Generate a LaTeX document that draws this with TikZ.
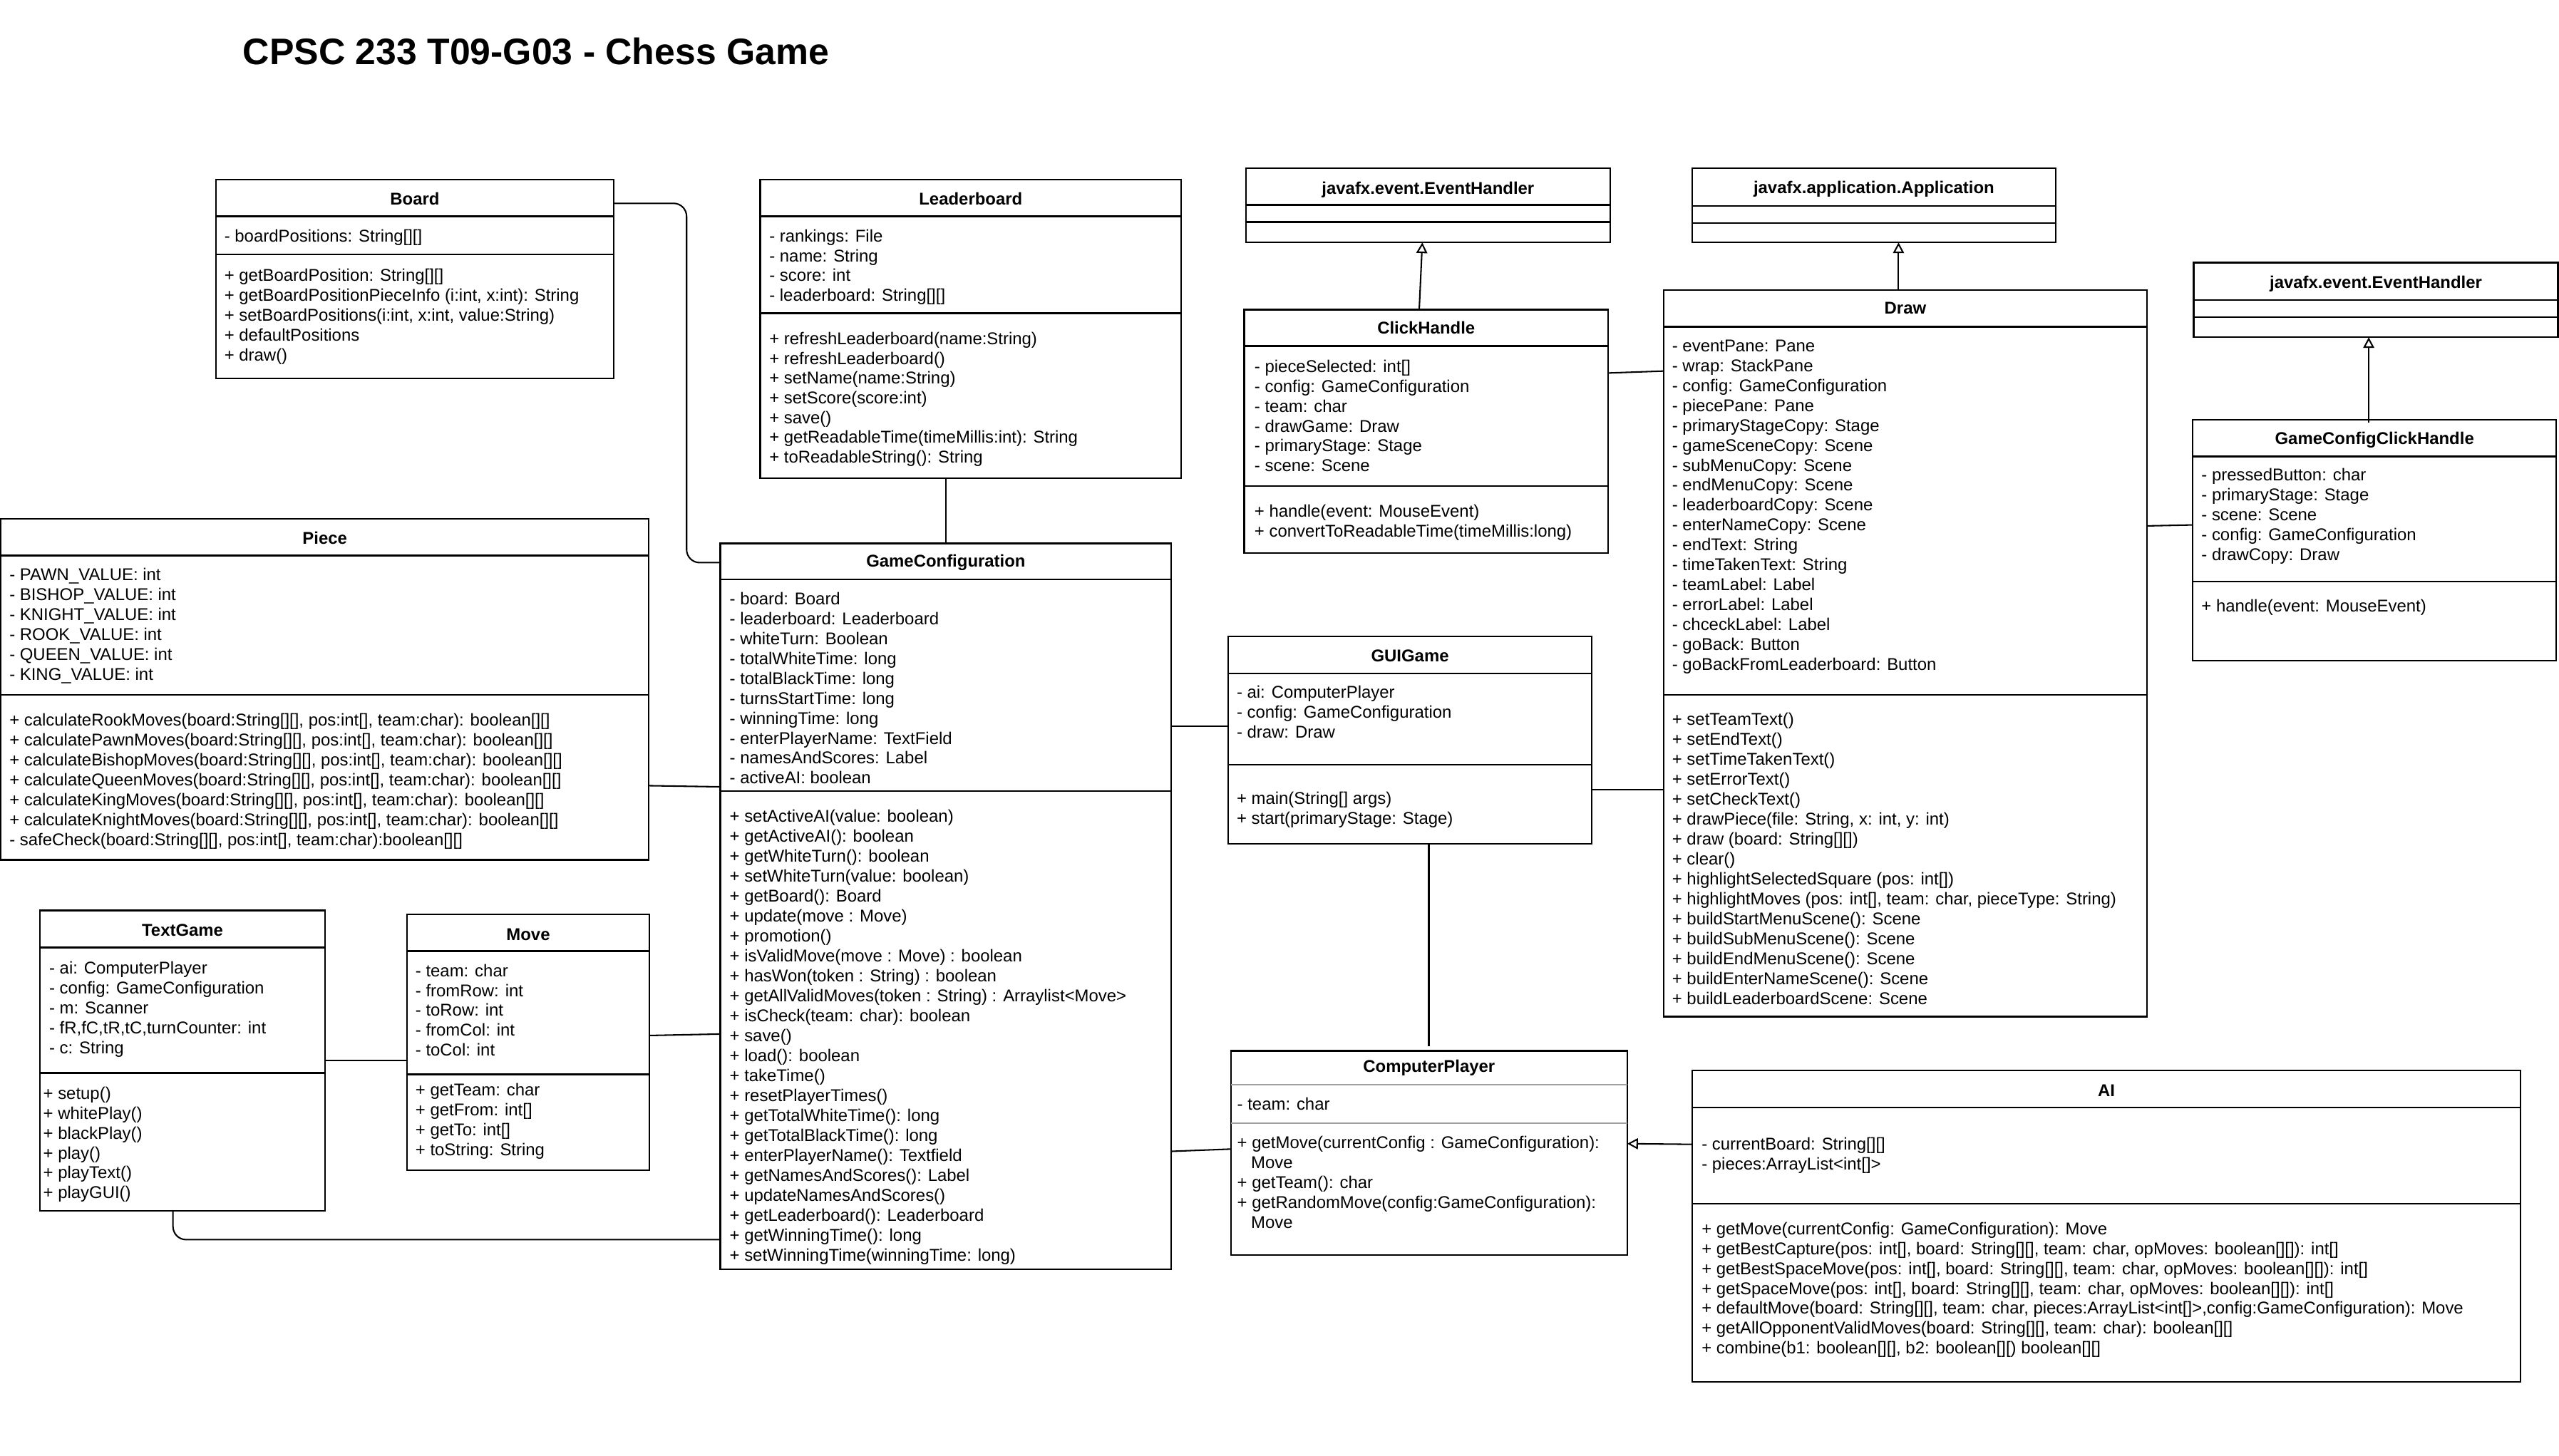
\documentclass[tikz,border=0pt]{standalone}
\usepackage{fontspec}
\setmainfont{Liberation Sans}
\usetikzlibrary{arrows.meta}
\definecolor{divgrey}{RGB}{160,160,160}
\tikzset{
  classbox/.style={draw=black, line width=1pt, inner sep=0pt, outer sep=0pt, anchor=north west},
  boxline/.style={draw=black, line width=1pt},
  greyline/.style={draw=divgrey, line width=1pt},
  conn/.style={draw=black, line width=0.9pt},
  txt/.style={anchor=base west, inner sep=0pt, font=\fontsize{10.45}{12.2}\selectfont},
  hdr/.style={anchor=base, inner sep=0pt, font=\fontsize{10.45}{12.2}\selectfont\bfseries},
  inh/.style={-{Triangle[open, length=6.5pt, width=6.7pt]}},
}
% name, x1, y1, x2, y2, div1, div2, header centre y, title
\newcommand{\umlclass}[9]{%
  \node[classbox, minimum width={#4-#2}, minimum height={#5-#3}] (#1) at (#2,#3) {};
  \draw[boxline] (#2,#6) -- (#4,#6);
  \draw[boxline] (#2,#7) -- (#4,#7);
  \node[hdr] (#1-title) at ({(#2+#4)/2}, {#8+3.74}) {#9};
}
% prefix, x, first centre y, spacing, list
\newcommand{\umllines}[5]{%
  \foreach \t [count=\i from 0] in {#5} {\node[txt] (#1-\i) at (#2, {#3+3.6+#4*\i}) {\t};}
}
\begin{document}
\begin{tikzpicture}[x=1pt, y=-1pt]
\useasboundingbox (0,0) rectangle (1568,892);
\fill[white] (0,0) rectangle (1568,892);

\node[anchor=base west, inner sep=0pt, font=\fontsize{22.6}{27}\selectfont\bfseries] (title) at (148.6,39.5) {CPSC 233 T09-G03 - Chess Game};

% Board
\umlclass{board}{132.3}{110}{376.1}{232}{132.6}{155.9}{122}{Board}
\umllines{boarda}{137.3}{144.5}{12.2}{- boardPositions: String[][]}
\umllines{boardm}{137.3}{168.7}{12.25}{+ getBoardPosition: String[][], {+ getBoardPositionPieceInfo (i:int, x:int): String}, {+ setBoardPositions(i:int, x:int, value:String)}, + defaultPositions, + draw()}

% Leaderboard
\umlclass{lb}{465.8}{110}{723.8}{293}{132.6}{191.9}{122}{Leaderboard}
\umllines{lba}{471.2}{144.5}{12.2}{- rankings: File, - name: String, - score: int, - leaderboard: String[][]}
\umllines{lbm}{471.2}{207.5}{12.1}{+ refreshLeaderboard(name:String), + refreshLeaderboard(), + setName(name:String), + setScore(score:int), + save(), + getReadableTime(timeMillis:int): String, + toReadableString(): String}

% EventHandler 1
\umlclass{eha}{763.5}{103}{986.5}{148.6}{125.6}{136.1}{115.4}{javafx.event.EventHandler}

% ClickHandle
\umlclass{ch}{762.4}{189.8}{985.3}{339}{212.1}{297.8}{201}{ClickHandle}
\umllines{cha}{768.5}{224.5}{12.2}{- pieceSelected: int[], - config: GameConfiguration, - team: char, - drawGame: Draw, - primaryStage: Stage, - scene: Scene}
\umllines{chm}{768.5}{313.4}{12.1}{+ handle(event: MouseEvent), + convertToReadableTime(timeMillis:long)}

% Application
\umlclass{app}{1036.8}{103}{1259.6}{148.6}{126.3}{136.6}{115}{javafx.application.Application}

% Draw
\umlclass{draw}{1019.4}{177.7}{1315.5}{623}{200.3}{425.7}{188.7}{Draw}
\umllines{drawa}{1024.4}{211.9}{12.2}{- eventPane: Pane, - wrap: StackPane, - config: GameConfiguration, - piecePane: Pane, - primaryStageCopy: Stage, - gameSceneCopy: Scene, - subMenuCopy: Scene, - endMenuCopy: Scene, - leaderboardCopy: Scene, - enterNameCopy: Scene, - endText: String, - timeTakenText: String, - teamLabel: Label, - errorLabel: Label, - chceckLabel: Label, - goBack: Button, - goBackFromLeaderboard: Button}
\umllines{drawm}{1024.4}{440.8}{12.23}{+ setTeamText(), + setEndText(), + setTimeTakenText(), + setErrorText(), + setCheckText(), {+ drawPiece(file: String, x: int, y: int)}, + draw (board: String[][]), + clear(), + highlightSelectedSquare (pos: int[]), {+ highlightMoves (pos: int[], team: char, pieceType: String)}, + buildStartMenuScene(): Scene, + buildSubMenuScene(): Scene, + buildEndMenuScene(): Scene, + buildEnterNameScene(): Scene, + buildLeaderboardScene: Scene}

% EventHandler 2
\umlclass{ehb}{1344.2}{161}{1567.3}{206.7}{183.8}{194.3}{173}{javafx.event.EventHandler}

% GameConfigClickHandle
\umlclass{gcch}{1343.6}{257.2}{1566.3}{405}{279.7}{356.3}{268.5}{GameConfigClickHandle}
\umllines{gccha}{1348.7}{291.2}{12.2}{- pressedButton: char, - primaryStage: Stage, - scene: Scene, - config: GameConfiguration, - drawCopy: Draw}
\umllines{gcchm}{1348.7}{371.2}{12.2}{+ handle(event: MouseEvent)}

% Piece
\umlclass{piece}{0.5}{318}{397.6}{527}{340.5}{425.7}{329.6}{Piece}
\umllines{piecea}{5.6}{352.1}{12.2}{- PAWN\_VALUE: int, - BISHOP\_VALUE: int, - KNIGHT\_VALUE: int, - ROOK\_VALUE: int, - QUEEN\_VALUE: int, - KING\_VALUE: int}
\umllines{piecem}{5.6}{441.3}{12.2}{{+ calculateRookMoves(board:String[][], pos:int[], team:char): boolean[][]}, {+ calculatePawnMoves(board:String[][], pos:int[], team:char): boolean[][]}, {+ calculateBishopMoves(board:String[][], pos:int[], team:char): boolean[][]}, {+ calculateQueenMoves(board:String[][], pos:int[], team:char): boolean[][]}, {+ calculateKingMoves(board:String[][], pos:int[], team:char): boolean[][]}, {+ calculateKnightMoves(board:String[][], pos:int[], team:char): boolean[][]}, {- safeCheck(board:String[][], pos:int[], team:char):boolean[][]}}

% GameConfiguration
\umlclass{gc}{441.4}{333}{717.7}{778}{355.2}{484.7}{343.9}{GameConfiguration}
\umllines{gca}{446.9}{367}{12.2}{- board: Board, - leaderboard: Leaderboard, - whiteTurn: Boolean, - totalWhiteTime: long, - totalBlackTime: long, - turnsStartTime: long, - winningTime: long, - enterPlayerName: TextField, - namesAndScores: Label, - activeAI: boolean}
\umllines{gcm}{446.9}{500.1}{12.23}{+ setActiveAI(value: boolean), + getActiveAI(): boolean, + getWhiteTurn(): boolean, + setWhiteTurn(value: boolean), + getBoard(): Board, + update(move : Move), + promotion(), + isValidMove(move : Move) : boolean, + hasWon(token : String) : boolean, + getAllValidMoves(token : String) : Arraylist<Move>, + isCheck(team: char): boolean, + save(), + load(): boolean, + takeTime(), + resetPlayerTimes(), + getTotalWhiteTime(): long, + getTotalBlackTime(): long, + enterPlayerName(): Textfield, + getNamesAndScores(): Label, + updateNamesAndScores(), + getLeaderboard(): Leaderboard, + getWinningTime(): long, + setWinningTime(winningTime: long)}

% GUIGame
\umlclass{gui}{752.6}{390}{975.3}{517}{412.7}{468.7}{401.7}{GUIGame}
\umllines{guia}{757.6}{424.4}{12.2}{- ai: ComputerPlayer, - config: GameConfiguration, - draw: Draw}
\umllines{guim}{757.6}{489.5}{12.1}{+ main(String[] args), + start(primaryStage: Stage)}

% ComputerPlayer
\node[classbox, minimum width={997.1-754.2}, minimum height={769-644}] (cp) at (754.2,644) {};
\draw[greyline] (cp.west |- 0,664.8) -- (cp.east |- 0,664.8);
\draw[greyline] (cp.west |- 0,688.4) -- (cp.east |- 0,688.4);
\node[hdr] (cp-title) at (875.65,656.9) {ComputerPlayer};
\umllines{cpa}{757.9}{676.8}{12.2}{- team: char}
\node[txt] (cpm0) at (757.9,704.0) {+ getMove(currentConfig : GameConfiguration):};
\node[txt] (cpm1) at (766.4,716.2) {Move};
\node[txt] (cpm2) at (757.9,728.4) {+ getTeam(): char};
\node[txt] (cpm3) at (757.9,740.6) {+ getRandomMove(config:GameConfiguration):};
\node[txt] (cpm4) at (766.4,752.8) {Move};

% AI
\umlclass{ai}{1036.8}{656}{1544.5}{847}{678.6}{737.7}{668}{AI}
\umllines{aia}{1042.5}{701.3}{12.2}{- currentBoard: String[][], - pieces:ArrayList<int[]>}
\umllines{aim}{1042.5}{753.3}{12.1}{+ getMove(currentConfig: GameConfiguration): Move, {+ getBestCapture(pos: int[], board: String[][], team: char, opMoves: boolean[][]): int[]}, {+ getBestSpaceMove(pos: int[], board: String[][], team: char, opMoves: boolean[][]): int[]}, {+ getSpaceMove(pos: int[], board: String[][], team: char, opMoves: boolean[][]): int[]}, {+ defaultMove(board: String[][], team: char, pieces:ArrayList<int[]>,config:GameConfiguration): Move}, {+ getAllOpponentValidMoves(board: String[][], team: char): boolean[][]}, {+ combine(b1: boolean[][], b2: boolean[][) boolean[][]}}

% TextGame
\umlclass{tg}{24.5}{558}{199.2}{742}{580.7}{657.5}{570}{TextGame}
\umllines{tga}{30}{593.3}{12.2}{- ai: ComputerPlayer, - config: GameConfiguration, - m: Scanner, {- fR,fC,tR,tC,turnCounter: int}, - c: String}
\umllines{tgm}{26.3}{670}{12.2}{+ setup(), + whitePlay(), + blackPlay(), + play(), + playText(), + playGUI()}

% Move
\umlclass{mv}{249.4}{560.3}{397.9}{717.1}{582.8}{658.4}{572.5}{Move}
\umllines{mva}{254.4}{594.8}{12.2}{- team: char, - fromRow: int, - toRow: int, - fromCol: int, - toCol: int}
\umllines{mvm}{254.4}{668.1}{12.2}{+ getTeam: char, + getFrom: int[], + getTo: int[], + toString: String}

% connectors
\draw[conn, rounded corners=8pt] ([yshift=-14.6pt]board.north east) -- ++(44.6,0) |- (gc.west |- 0,344.8);
\draw[conn] (gc.north) -- (gc.north |- lb.south);
\draw[conn] (piece.east |- 0,481.5) -- (gc.west |- 0,482.2);
\draw[conn] (mv.east |- 0,634.6) -- (gc.west |- 0,633.7);
\draw[conn] (tg.east |- 0,650) -- (mv.west |- 0,650);
\draw[conn, rounded corners=8pt] (tg.south -| 106,0) |- (gc.west |- 0,759.7);
\draw[conn] (gc.east |- 0,445.2) -- (gui.west |- 0,445.2);
\draw[conn] (gui.east |- 0,484) -- (draw.west |- 0,484);
\draw[conn] (gui.south -| 875.5,0) -- ([yshift=3pt]cp.north -| 875.5,0);
\draw[conn] (cp.west |- 0,704.2) -- (gc.east |- 0,705.6);
\draw[conn, inh] (ai.west |- 0,701.3) -- (cp.east |- 0,700.9);
\draw[conn, inh] (ch.north -| 869.6,0) -- (eha.south -| 871.5,0);
\draw[conn] (ch.east |- 0,228.6) -- (draw.west |- 0,227.4);
\draw[conn, inh] (draw.north -| 1163.3,0) -- (app.south -| 1163.3,0);
\draw[conn] (draw.east |- 0,322.3) -- (gcch.west |- 0,321.7);
\draw[conn, inh] ([yshift=-2pt]gcch.north -| 1451.4,0) -- (ehb.south -| 1451.4,0);
\end{tikzpicture}
\end{document}
